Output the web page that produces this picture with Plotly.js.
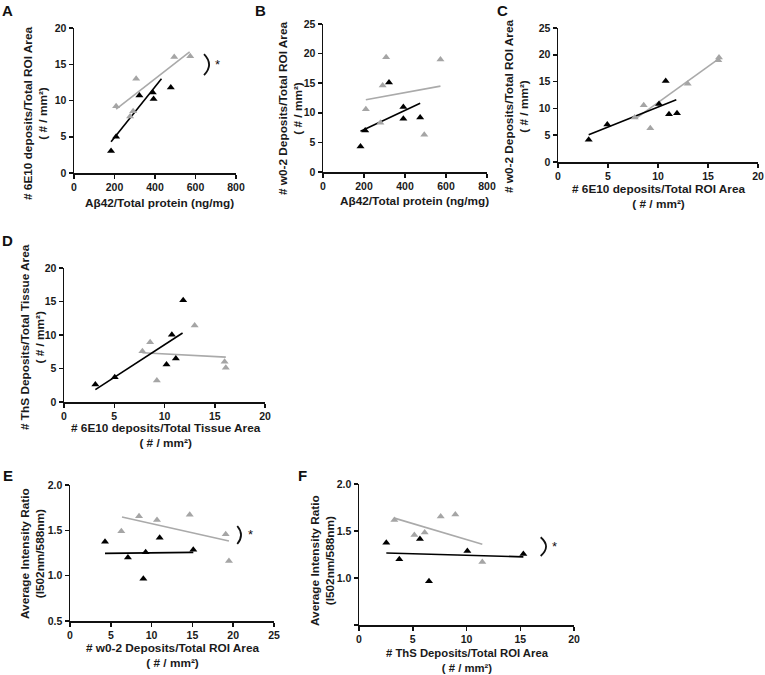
<!DOCTYPE html>
<html>
<head>
<meta charset="utf-8">
<script src="https://cdn.plot.ly/plotly-3.0.1.min.js"></script>
<style>html,body{margin:0;padding:0;background:#fff;}#chart{width:765px;height:675px;}</style>
</head>
<body>
<div id="chart"></div>
<script>
// ---------- DATA ----------
// Panel A: Abeta42/Total protein (x) vs 6E10 deposits (y)
const aBlackX = [183, 208, 323, 389, 393, 478];
const aBlackY = [3.05, 5.0, 10.7, 11.1, 10.2, 11.8];
const aGrayX  = [208, 307, 292, 277, 495, 574];
const aGrayY  = [9.2, 13.0, 8.5, 7.8, 16.0, 16.1];
const aFitBlackX = [183, 432], aFitBlackY = [4.3, 13.0];
const aFitGrayX  = [208, 571], aFitGrayY  = [8.8, 16.7];

// Panel B: Abeta42/Total protein (x) vs w0-2 deposits (y)
const bBlackX = [183, 206, 322, 392, 392, 474];
const bBlackY = [4.3, 7.0, 15.1, 11.0, 9.0, 9.2];
const bGrayX  = [209, 291, 308, 280, 494, 573];
const bGrayY  = [10.6, 14.6, 19.4, 8.3, 6.3, 19.0];
const bFitBlackX = [183, 474], bFitBlackY = [6.9, 11.6];
const bFitGrayX  = [209, 573], bFitGrayY  = [12.2, 14.5];

// Panel C: 6E10 deposits (x) vs w0-2 deposits (y)
const cBlackX = [3.07, 4.93, 10.1, 10.77, 11.1, 11.9];
const cBlackY = [4.17, 7.0, 10.8, 15.1, 8.9, 9.1];
const cGrayX  = [7.67, 8.57, 9.23, 12.97, 16.03, 16.1];
const cGrayY  = [8.3, 10.6, 6.3, 14.6, 19.0, 19.5];
const cFitBlackX = [3.07, 11.83], cFitBlackY = [5.1, 11.6];
const cFitGrayX  = [7.77, 16.1], cFitGrayY  = [8.1, 19.3];

// Panel D: 6E10 deposits (x) vs ThS deposits (y)
const dBlackX = [3.12, 5.05, 10.2, 10.73, 11.13, 11.86];
const dBlackY = [2.6, 3.7, 5.6, 10.05, 6.5, 15.2];
const dGrayX  = [7.8, 8.57, 9.24, 13.0, 15.98, 16.1];
const dGrayY  = [7.56, 8.9, 3.2, 11.4, 6.0, 5.1];
const dFitBlackX = [3.12, 11.8], dFitBlackY = [1.84, 10.3];
const dFitGrayX  = [7.8, 16.1], dFitGrayY  = [7.36, 6.7];

// Panel E: w0-2 deposits (x) vs intensity ratio (y)
const eBlackX = [4.29, 7.1, 8.99, 9.27, 10.99, 15.11];
const eBlackY = [1.375, 1.20, 0.967, 1.257, 1.419, 1.287];
const eGrayX  = [6.29, 8.46, 10.66, 14.67, 19.08, 19.48];
const eGrayY  = [1.49, 1.654, 1.614, 1.673, 1.456, 1.162];
const eFitBlackX = [4.29, 15.11], eFitBlackY = [1.246, 1.257];
const eFitGrayX  = [6.37, 19.48], eFitGrayY  = [1.647, 1.382];

// Panel F: ThS deposits (x) vs intensity ratio (y)
const fBlackX = [2.54, 3.75, 5.67, 6.51, 10.08, 15.29];
const fBlackY = [1.374, 1.20, 1.415, 0.965, 1.287, 1.256];
const fGrayX  = [3.29, 5.15, 6.11, 7.6, 8.96, 11.47];
const fGrayY  = [1.616, 1.457, 1.484, 1.654, 1.675, 1.17];
const fFitBlackX = [2.54, 15.29], fFitBlackY = [1.266, 1.225];
const fFitGrayX  = [3.29, 11.47], fFitGrayY  = [1.637, 1.36];

// Tick labels
const ticksE = [0.5, 1.0, 1.5, 2.0];
const ticksETxt = ['0.5', '1.0', '1.5', '2.0'];
const ticksF = [0.5, 1.0, 1.5, 2.0];
const ticksFTxt = ['', '1.0', '1.5', '2.0'];

// ---------- LAYOUT HELPERS ----------
const W = 765, H = 675;
const px = v => v / W;
const py = v => 1 - v / H;
const FONT = 'Liberation Sans, Arial, Helvetica, sans-serif';
const BLACK = '#000000', GRAY = '#a5a5a5', GRAYLINE = '#aaaaaa';

const traces = [];
function addPanel(n, bx, by, gx, gy, fbx, fby, fgx, fgy) {
  const xa = n === 1 ? 'x' : 'x' + n;
  const ya = n === 1 ? 'y' : 'y' + n;
  traces.push({x: fgx, y: fgy, xaxis: xa, yaxis: ya, mode: 'lines', line: {color: GRAYLINE, width: 1.6}, hoverinfo: 'skip'});
  traces.push({x: fbx, y: fby, xaxis: xa, yaxis: ya, mode: 'lines', line: {color: BLACK, width: 1.6}, hoverinfo: 'skip'});
  traces.push({x: gx, y: gy, xaxis: xa, yaxis: ya, mode: 'markers', marker: {symbol: 'triangle-up', size: 7, color: GRAY}});
  traces.push({x: bx, y: by, xaxis: xa, yaxis: ya, mode: 'markers', marker: {symbol: 'triangle-up', size: 7, color: BLACK}});
}
addPanel(1, aBlackX, aBlackY, aGrayX, aGrayY, aFitBlackX, aFitBlackY, aFitGrayX, aFitGrayY);
addPanel(2, bBlackX, bBlackY, bGrayX, bGrayY, bFitBlackX, bFitBlackY, bFitGrayX, bFitGrayY);
addPanel(3, cBlackX, cBlackY, cGrayX, cGrayY, cFitBlackX, cFitBlackY, cFitGrayX, cFitGrayY);
addPanel(4, dBlackX, dBlackY, dGrayX, dGrayY, dFitBlackX, dFitBlackY, dFitGrayX, dFitGrayY);
addPanel(5, eBlackX, eBlackY, eGrayX, eGrayY, eFitBlackX, eFitBlackY, eFitGrayX, eFitGrayY);
addPanel(6, fBlackX, fBlackY, fGrayX, fGrayY, fFitBlackX, fFitBlackY, fFitGrayX, fFitGrayY);

const tickFont = {family: FONT, size: 10.5, color: '#1a1a1a', weight: 700};
function axis(extra) {
  return Object.assign({
    showline: true, linecolor: '#111', linewidth: 1.5,
    ticks: 'outside', ticklen: 4, tickwidth: 1.5, tickcolor: '#111',
    showgrid: false, zeroline: false, automargin: false,
    tickfont: tickFont, fixedrange: true
  }, extra);
}

// pixel boxes: [x0, x1, yTop, yBottom]
const boxes = [
  [74, 236, 28, 173],
  [323, 487, 24, 172],
  [558, 758, 28, 162],
  [64, 265, 268, 402],
  [70, 274, 485, 621],
  [359, 574, 484, 625]
];
const xr = [[0, 800], [0, 800], [0, 20], [0, 20], [0, 25], [0, 20]];
const yr = [[0, 20], [0, 25], [0, 25], [0, 20], [0.5, 2.0], [0.5, 2.0]];
const xd = [200, 200, 5, 5, 5, 5];

const layout = {
  width: W, height: H,
  margin: {l: 0, r: 0, t: 0, b: 0},
  paper_bgcolor: '#fff', plot_bgcolor: '#fff',
  showlegend: false,
  font: {family: FONT, color: '#1a1a1a'},
  annotations: [], shapes: []
};
boxes.forEach((b, i) => {
  const n = i + 1;
  const xk = n === 1 ? 'xaxis' : 'xaxis' + n;
  const yk = n === 1 ? 'yaxis' : 'yaxis' + n;
  const ya = n === 1 ? 'y' : 'y' + n;
  const xa = n === 1 ? 'x' : 'x' + n;
  layout[xk] = axis({domain: [px(b[0]), px(b[1])], range: xr[i], anchor: ya, dtick: xd[i], tick0: 0});
  const yExtra = {domain: [py(b[3]), py(b[2])], range: yr[i], anchor: xa};
  if (i === 4) { yExtra.tickvals = ticksE; yExtra.ticktext = ticksETxt; }
  else if (i === 5) { yExtra.tickvals = ticksF; yExtra.ticktext = ticksFTxt; }
  else { yExtra.dtick = 5; yExtra.tick0 = 0; }
  layout[yk] = axis(yExtra);
});

const titleFont = {family: FONT, size: 11.8, color: '#1a1a1a', weight: 700};
function ann(text, x, y, extra) {
  layout.annotations.push(Object.assign({
    text: text, xref: 'paper', yref: 'paper', x: px(x), y: py(y),
    xanchor: 'center', yanchor: 'middle', showarrow: false, font: titleFont
  }, extra || {}));
}
// Y titles (rotated)
ann('# 6E10 deposits/Total ROI Area<br>( # / mm²)', 35, 113, {textangle: -90});
ann('# w0-2 Deposits/Total ROI Area<br>( # / mm²)', 290, 108, {textangle: -90});
ann('# w0-2 Deposits/Total ROI Area<br>( # / mm²)', 516, 106, {textangle: -90});
ann('# ThS Deposits/Total Tissue Area<br>( # / mm²)', 32, 337, {textangle: -90});
ann('Average Intensity Ratio<br>(I502nm/588nm)', 32, 554, {textangle: -90});
ann('Average Intensity Ratio<br>(I502nm/588nm)', 322, 561, {textangle: -90});
// X titles
ann('Aβ42/Total protein (ng/mg)', 159, 203);
ann('Aβ42/Total protein (ng/mg)', 415, 201);
ann('# 6E10 deposits/Total ROI Area<br>( # / mm²)', 659, 197);
ann('# 6E10 deposits/Total Tissue Area<br>( # / mm²)', 166, 435);
ann('# w0-2 Deposits/Total ROI Area<br>( # / mm²)', 173, 655);
ann('# ThS Deposits/Total ROI Area<br>( # / mm²)', 467, 660, {font: Object.assign({}, titleFont, {size: 11.3})});
// Panel letters
const letterFont = {family: FONT, size: 15, color: '#111', weight: 700};
ann('A', 8, 11, {font: letterFont});
ann('B', 260, 10, {font: letterFont});
ann('C', 502, 11, {font: letterFont});
ann('D', 8, 240, {font: letterFont});
ann('E', 8, 475, {font: letterFont});
ann('F', 302, 475, {font: letterFont});

// significance brackets and asterisks (in axis coordinates)
function bracket(xa, ya, x0, yTop, yBot, bulge) {
  const cx = x0 + 2 * bulge;
  layout.shapes.push({type: 'path', xref: xa, yref: ya,
    path: `M ${x0},${yTop} Q ${cx},${(yTop + yBot) / 2} ${x0},${yBot}`,
    line: {color: '#111', width: 1.8}});
}
bracket('x', 'y', 642, 16.4, 13.5, 25);
bracket('x5', 'y5', 20.5, 1.548, 1.349, 0.46);
bracket('x6', 'y6', 16.9, 1.434, 1.234, 0.5);
const starFont = {family: FONT, size: 13, color: '#111'};
layout.annotations.push({text: '*', xref: 'x', yref: 'y', x: 711, y: 14.9, showarrow: false, font: starFont});
layout.annotations.push({text: '*', xref: 'x5', yref: 'y5', x: 22.1, y: 1.45, showarrow: false, font: starFont});
layout.annotations.push({text: '*', xref: 'x6', yref: 'y6', x: 18.2, y: 1.33, showarrow: false, font: starFont});

Plotly.newPlot('chart', traces, layout, {staticPlot: true, displayModeBar: false});
</script>
</body>
</html>
